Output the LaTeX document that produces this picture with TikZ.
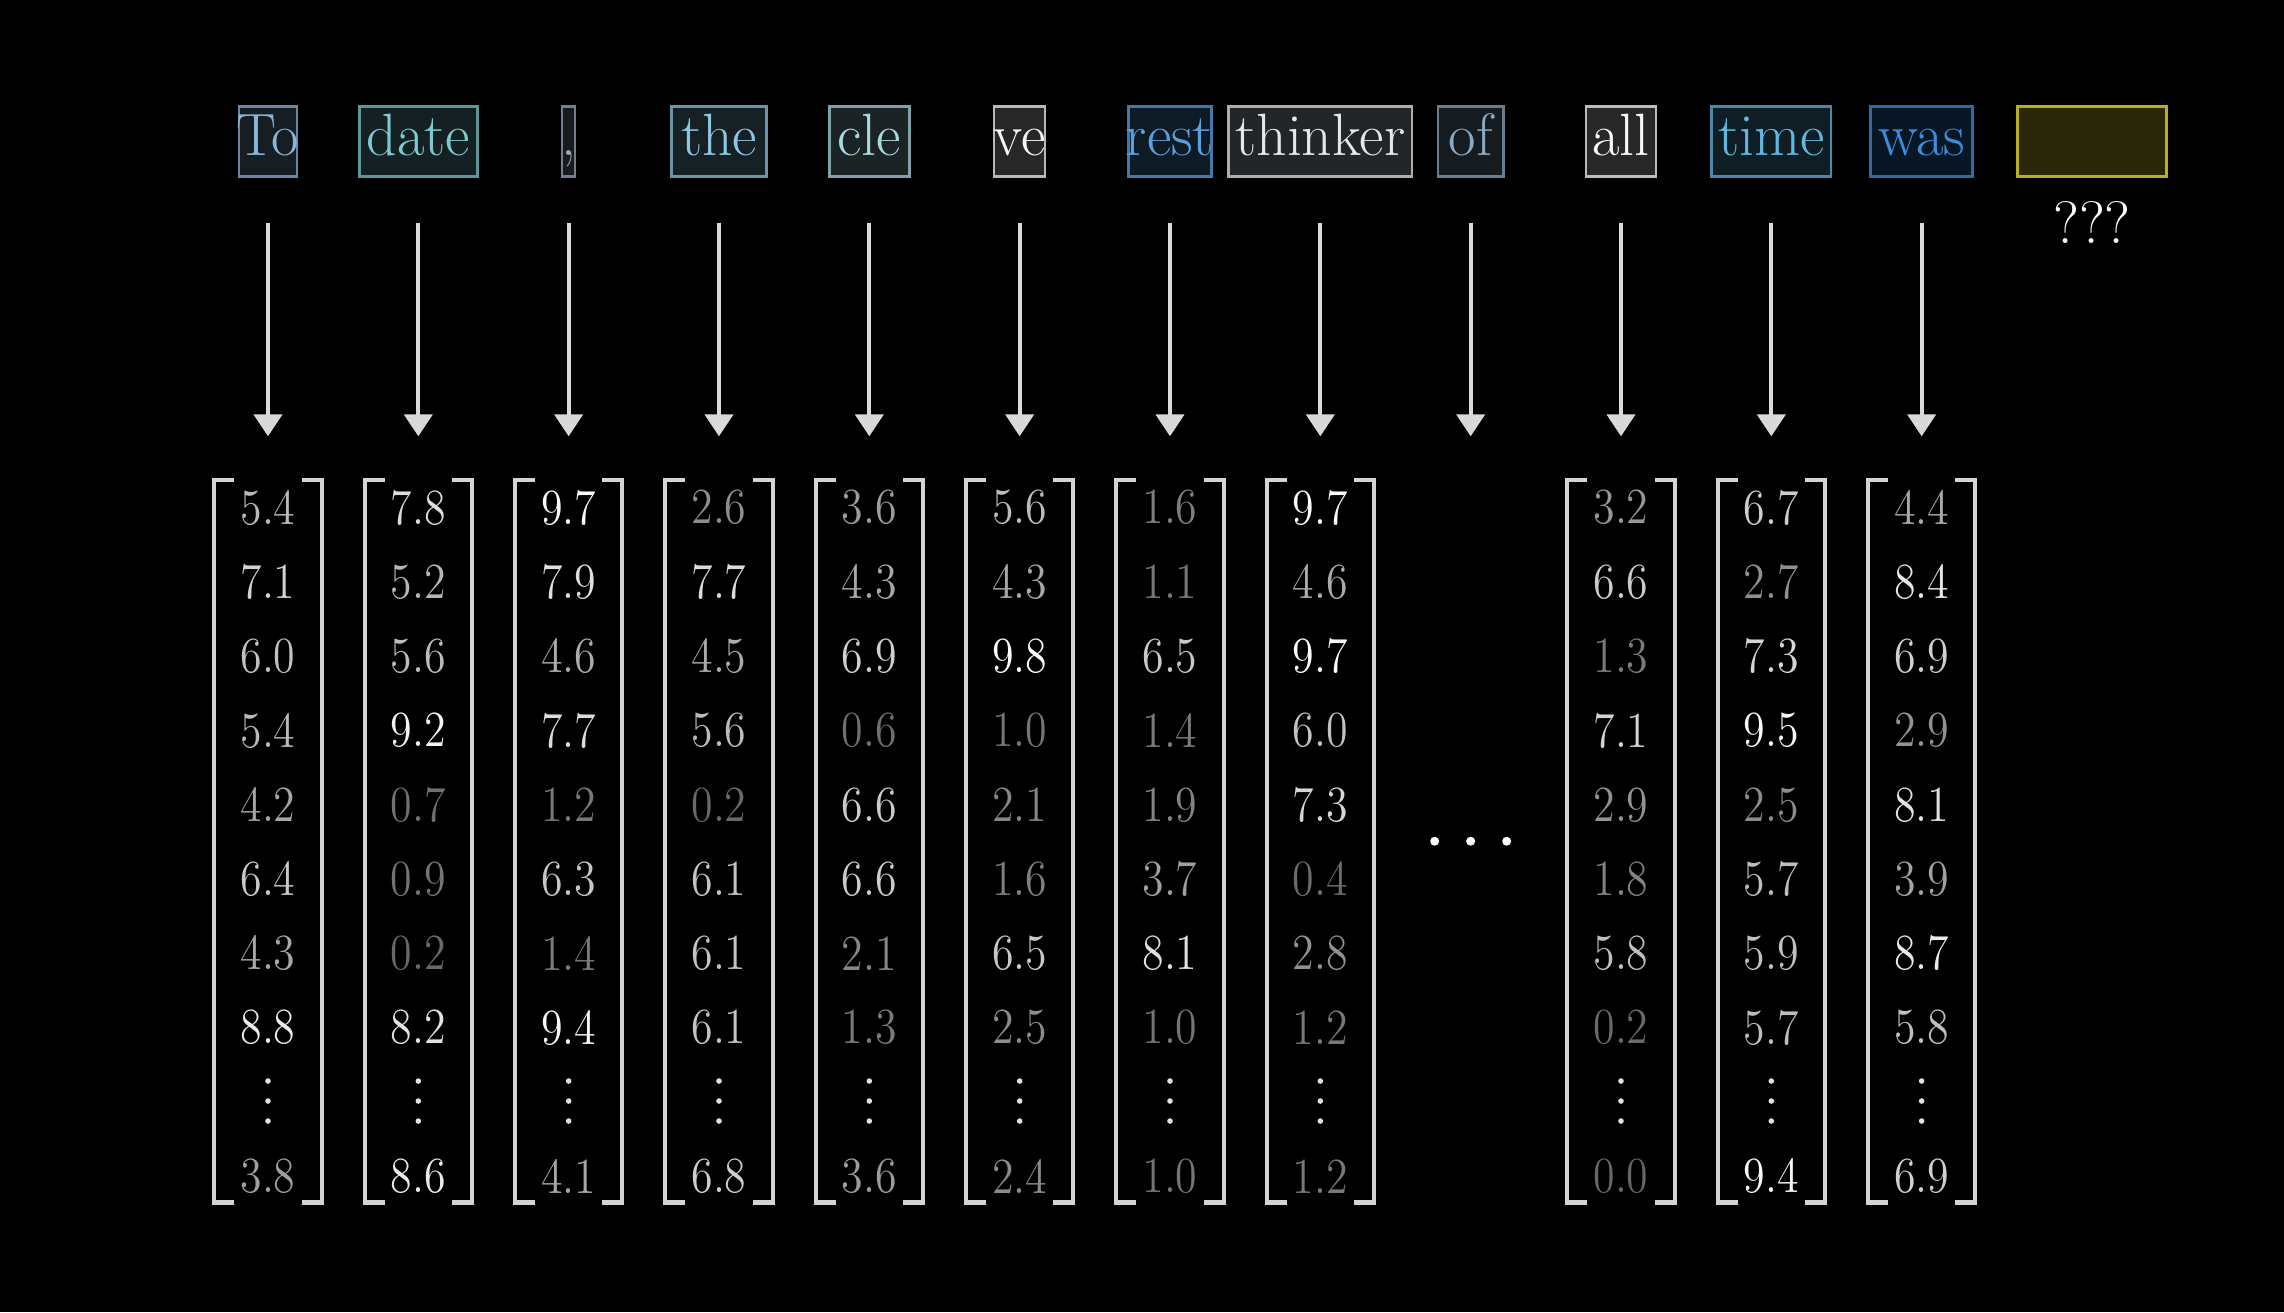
\documentclass[tikz,border=0pt]{standalone}
\usepackage{tikz}
\usetikzlibrary{arrows.meta,positioning}

\definecolor{tokTo}{HTML}{8AB4D8}
\definecolor{tokDate}{HTML}{7EC8D0}
\definecolor{tokComma}{HTML}{96AABE}
\definecolor{tokThe}{HTML}{8EC5E0}
\definecolor{tokCle}{HTML}{A8D8E0}
\definecolor{tokVe}{HTML}{F5F5F5}
\definecolor{tokRest}{HTML}{5AA0E0}
\definecolor{tokThinker}{HTML}{E1E8F0}
\definecolor{tokOf}{HTML}{8AA8C0}
\definecolor{tokAll}{HTML}{FAFAFA}
\definecolor{tokTime}{HTML}{60B8E0}
\definecolor{tokWas}{HTML}{3A8EE0}
\definecolor{arrowGray}{HTML}{D9D9D9}
\definecolor{bracketGray}{HTML}{D4D4D4}
\definecolor{blankLine}{HTML}{B8B020}
\definecolor{blankFill}{HTML}{2A2808}

\begin{document}
\begin{tikzpicture}[
		tokenBox/.style={rectangle, draw=#1!75!black, fill=#1!16!black, text=#1,
			line width=0.7pt, inner xsep=0pt, inner ysep=0.09cm, minimum height=0.7cm,
			text height=0.4cm, text depth=0.12cm, font=\fontsize{17}{20}\selectfont},
		blankBox/.style={rectangle, draw=blankLine, fill=blankFill, line width=0.8pt,
			minimum width=1.486cm, minimum height=0.7cm},
		queryText/.style={text=white, font=\fontsize{17}{20}\selectfont},
		vecFrame/.style={rectangle, minimum width=1.06cm, minimum height=7.21cm, inner sep=0pt},
		vecArrow/.style={draw=arrowGray, line width=1.2pt,
			-{Triangle[width=0.28cm,length=0.22cm]}, shorten <=0.45cm, shorten >=0.437cm},
		bracketLine/.style={draw=bracketGray, line width=1.2pt},
		numNode/.style={font=\fontsize{12.5}{15}\selectfont, inner sep=1pt},
		]
		\fill[black] (0,0) rectangle (22.84,-13.12);
		\useasboundingbox (0,0) rectangle (22.84,-13.12);
		
		\foreach \txt/\col/\boxW [count=\i] in {To/tokTo/0.583, date/tokDate/1.18, {,}/tokComma/0.131,
			the/tokThe/0.947, cle/tokCle/0.80, ve/tokVe/0.51, rest/tokRest/0.83, thinker/tokThinker/1.835,
			of/tokOf/0.655, all/tokAll/0.70, time/tokTime/1.194, was/tokWas/1.02}{
			\pgfmathsetmacro\xx{2.68+1.5033*(\i-1)}
			\node[tokenBox=\col] (tok\i) at (\xx,-1.413) {\makebox[\boxW cm]{\txt}};
			\node[vecFrame] (vec\i) at (\xx,-8.412) {};
			\draw[vecArrow] (tok\i.south) -- (vec\i.north);
		}
		
		\node[blankBox] (blank) at (20.92,-1.413) {};
		\node[queryText] (query) at ([yshift=-0.45cm]blank.south) {???};
		
		\foreach \cl in {1,...,8,10,11,12}{
			\draw[bracketLine] ([xshift=0.2cm]vec\cl.north west) -- (vec\cl.north west)
			-- (vec\cl.south west) -- ([xshift=0.2cm]vec\cl.south west);
			\draw[bracketLine] ([xshift=-0.2cm]vec\cl.north east) -- (vec\cl.north east)
			-- (vec\cl.south east) -- ([xshift=-0.2cm]vec\cl.south east);
			\foreach \dy in {6.01,6.21,6.41}{
				\fill[white!88!black] ([yshift=-\dy cm]vec\cl.north) circle (0.028);
			}
		}
		
		\foreach \cl/\vals in {1/{5.4,7.1,6.0,5.4,4.2,6.4,4.3,8.8,3.8},
			2/{7.8,5.2,5.6,9.2,0.7,0.9,0.2,8.2,8.6},
			3/{9.7,7.9,4.6,7.7,1.2,6.3,1.4,9.4,4.1},
			4/{2.6,7.7,4.5,5.6,0.2,6.1,6.1,6.1,6.8},
			5/{3.6,4.3,6.9,0.6,6.6,6.6,2.1,1.3,3.6},
			6/{5.6,4.3,9.8,1.0,2.1,1.6,6.5,2.5,2.4},
			7/{1.6,1.1,6.5,1.4,1.9,3.7,8.1,1.0,1.0},
			8/{9.7,4.6,9.7,6.0,7.3,0.4,2.8,1.2,1.2},
			10/{3.2,6.6,1.3,7.1,2.9,1.8,5.8,0.2,0.0},
			11/{6.7,2.7,7.3,9.5,2.5,5.7,5.9,5.7,9.4},
			12/{4.4,8.4,6.9,2.9,8.1,3.9,8.7,5.8,6.9}}{
			\foreach \val [count=\rw] in \vals{
				\pgfmathsetmacro\lev{40+6*\val}
				\pgfmathsetmacro\shiftY{\rw<9 ? 0.276+0.7429*(\rw-1) : 6.962}
				\node[numNode, text=white!\lev!black] (num\cl-\rw) at ([yshift=-\shiftY cm]vec\cl.north)
				{\scalebox{1}[1.15]{\val}};
			}
		}
		
		\foreach \dx in {-0.36,0,0.36}{
			\fill[white] ([xshift=\dx cm]vec9.center) circle (0.045);
		}
	\end{tikzpicture}
\end{document}
